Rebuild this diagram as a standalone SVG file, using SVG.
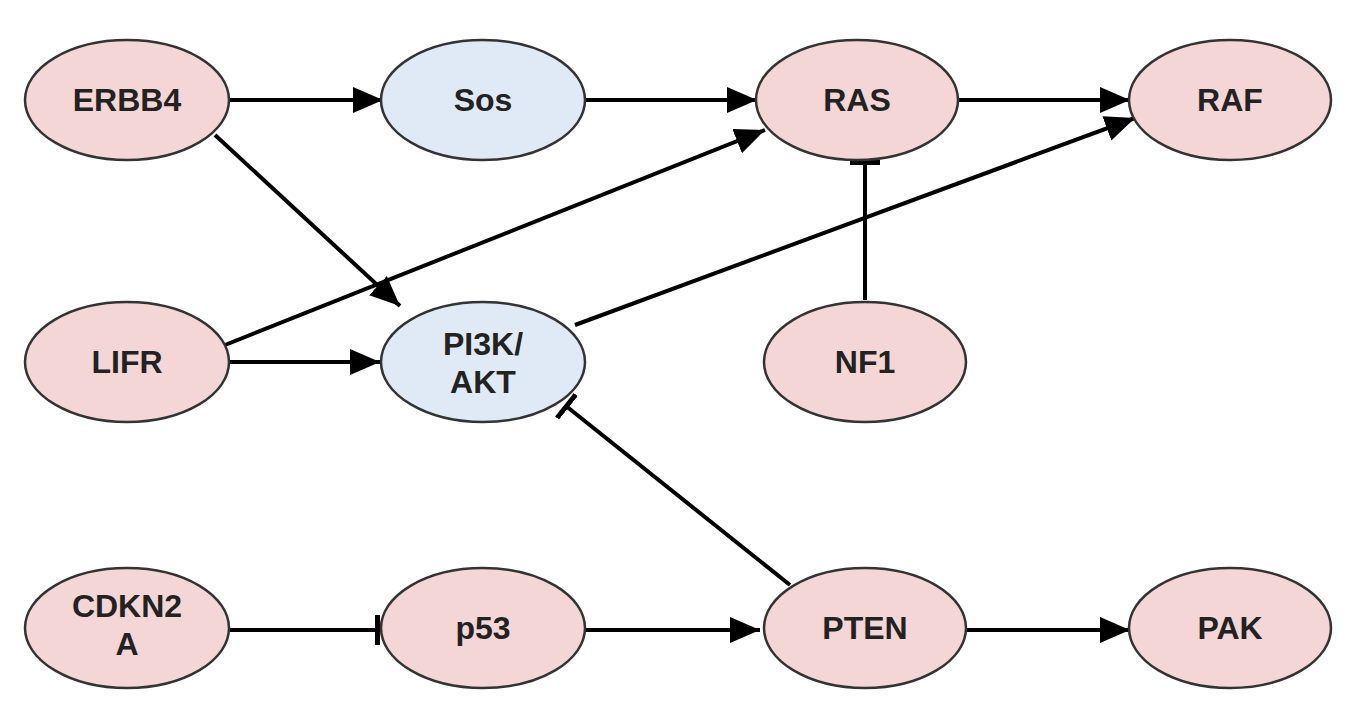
<svg xmlns="http://www.w3.org/2000/svg" width="1360" height="728" viewBox="0 0 1360 728">
<defs>
<marker id="ah" markerWidth="30" markerHeight="26" refX="30" refY="13" orient="auto" markerUnits="userSpaceOnUse"><path d="M0,0 L30,13 L0,26 z" fill="#000"/></marker>
<marker id="tee" markerWidth="6" markerHeight="30" refX="3" refY="15" orient="auto" markerUnits="userSpaceOnUse"><rect x="0" y="0" width="5" height="30" fill="#000"/></marker>
</defs>
<style>
.p{fill:#f5d6d6;stroke:#333;stroke-width:2.5}
.b{fill:#dfeaf6;stroke:#333;stroke-width:2.5}
text{font-family:"Liberation Sans",Arial,sans-serif;font-weight:bold;font-size:32px;fill:#222;text-anchor:middle}
.e line{stroke:#000;stroke-width:4}
.a{marker-end:url(#ah)}
.t{marker-end:url(#tee)}
</style>
<rect width="1360" height="728" fill="#fff"/>
<g class="e" id="connectors">
<line class="a" x1="229" y1="100" x2="383" y2="100"/>
<line class="a" x1="585" y1="100" x2="757" y2="100"/>
<line class="a" x1="958" y1="100" x2="1130" y2="100"/>
<line class="a" x1="215" y1="135" x2="400" y2="306"/>
<line class="a" x1="225" y1="345" x2="765" y2="130"/>
<line class="a" x1="575" y1="325" x2="1135" y2="118"/>
<line class="t" x1="865" y1="300" x2="865" y2="162"/>
<line class="a" x1="229" y1="362" x2="380" y2="362"/>
<line class="t" x1="790" y1="585" x2="566" y2="406"/>
<line class="t" x1="229" y1="630" x2="378" y2="630"/>
<line class="a" x1="585" y1="630" x2="760" y2="630"/>
<line class="a" x1="965" y1="630" x2="1130" y2="630"/>
</g>
<g id="ERBB4"><ellipse class="p" cx="127" cy="100" rx="102" ry="60"/><text x="127" y="111">ERBB4</text></g>
<g id="Sos"><ellipse class="b" cx="483" cy="100" rx="102" ry="60"/><text x="483" y="111">Sos</text></g>
<g id="RAS"><ellipse class="p" cx="857" cy="100" rx="101" ry="60"/><text x="857" y="111">RAS</text></g>
<g id="RAF"><ellipse class="p" cx="1230" cy="100" rx="101" ry="60"/><text x="1230" y="111">RAF</text></g>
<g id="LIFR"><ellipse class="p" cx="127" cy="362" rx="102" ry="60"/><text x="127" y="373">LIFR</text></g>
<g id="PI3K"><ellipse class="b" cx="483" cy="362" rx="102" ry="60"/><text x="483" y="355">PI3K/</text><text x="483" y="393">AKT</text></g>
<g id="NF1"><ellipse class="p" cx="865" cy="362" rx="101" ry="60"/><text x="865" y="373">NF1</text></g>
<g id="CDKN2A"><ellipse class="p" cx="127" cy="628" rx="102" ry="60"/><text x="127" y="617">CDKN2</text><text x="127" y="655">A</text></g>
<g id="p53"><ellipse class="p" cx="483" cy="628" rx="102" ry="60"/><text x="483" y="639">p53</text></g>
<g id="PTEN"><ellipse class="p" cx="865" cy="628" rx="101" ry="60"/><text x="865" y="639">PTEN</text></g>
<g id="PAK"><ellipse class="p" cx="1230" cy="628" rx="101" ry="60"/><text x="1230" y="639">PAK</text></g>
</svg>
